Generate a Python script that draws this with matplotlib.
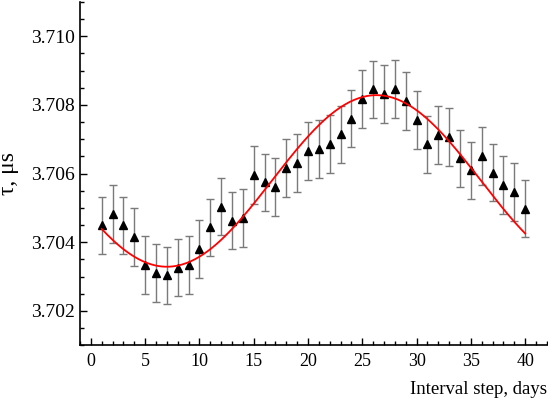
"interval-step lifetime plot with sine fit"
import numpy as np
import matplotlib
matplotlib.use("Agg")
from matplotlib import pyplot as plt
from matplotlib.ticker import MultipleLocator, FormatStrFormatter

days = list(range(1, 41))
tau = [3.70449, 3.70483, 3.70449, 3.70415, 3.70333, 3.70310, 3.70303, 3.70326,
       3.70333, 3.70380, 3.70443, 3.70504, 3.70463, 3.70470, 3.70595, 3.70574,
       3.70561, 3.70617, 3.70631, 3.70665, 3.70672, 3.70686, 3.70714, 3.70760,
       3.70818, 3.70845, 3.70832, 3.70847, 3.70811, 3.70756, 3.70685, 3.70713,
       3.70707, 3.70644, 3.70609, 3.70652, 3.70603, 3.70567, 3.70547, 3.70498]
tau_err = [0.00084] * 40

# sine fit parameters (offset, amplitude, period, day of minimum)
FIT_MEAN = 3.705785
FIT_AMP = 0.0025
FIT_PERIOD = 38.6
FIT_TMIN = 7.0

plt.rcParams['font.family'] = ['Liberation Serif', 'DejaVu Serif']

fig = plt.figure(figsize=(5.48, 3.99), dpi=100)
ax = fig.add_axes([0.146, 0.135, 0.852, 0.860])

ax.errorbar(days, tau, yerr=tau_err, fmt='none', ecolor='#7a7a7a',
            elinewidth=1.0, capsize=3, capthick=1.0, zorder=2)
ax.plot(days, tau, '^', color='black', ms=6, zorder=3)

t = np.linspace(days[0], days[-1], 300)
fit = FIT_MEAN - FIT_AMP * np.cos(2 * np.pi * (t - FIT_TMIN) / FIT_PERIOD)
ax.plot(t, fit, color='red', lw=1.3, zorder=4)

ax.set_xlim(-1, 42)
ax.set_ylim(3.701, 3.711)
ax.spines['top'].set_visible(False)
ax.spines['right'].set_visible(False)
ax.spines['left'].set_linewidth(1.2)
ax.spines['bottom'].set_linewidth(1.2)

ax.xaxis.set_major_locator(MultipleLocator(5))
ax.xaxis.set_minor_locator(MultipleLocator(1))
ax.yaxis.set_major_locator(MultipleLocator(0.002))
ax.yaxis.set_minor_locator(MultipleLocator(0.0005))
ax.yaxis.set_major_formatter(FormatStrFormatter('%.3f'))
ax.tick_params(which='both', direction='in', width=1.0)
ax.tick_params(which='major', length=5)
ax.tick_params(which='minor', length=3)
ax.tick_params(axis='x', labelsize=13, pad=6)
ax.tick_params(axis='y', labelsize=14, pad=4)

ax.set_ylabel('τ, μs', fontsize=17, labelpad=8)
ax.set_xlabel('Interval step, days', fontsize=13.5, labelpad=2)
ax.xaxis.set_label_coords(1.0, -0.105)
ax.xaxis.label.set_horizontalalignment('right')

fig.savefig('out.png', dpi=100)
